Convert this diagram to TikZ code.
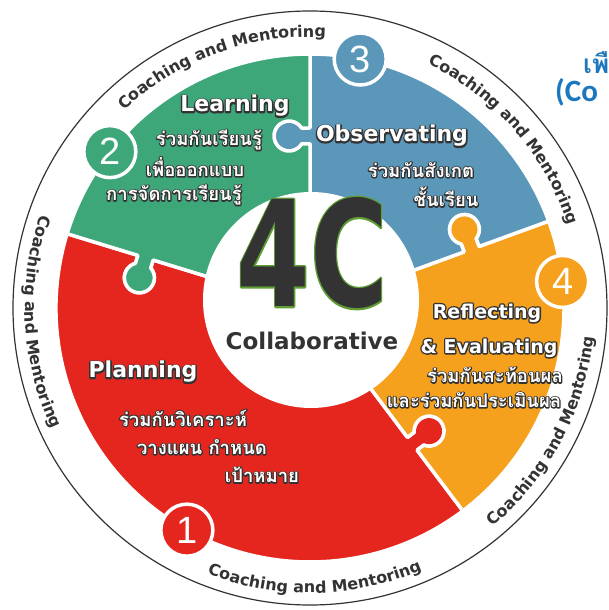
\documentclass[tikz,border=0pt]{standalone}
\usepackage{fontspec}
\usepackage{graphicx}
\usetikzlibrary{calc,decorations.text}
\newfontfamily\thaifont[Script=Thai]{Loma}
\newfontfamily\headfont{DejaVu Sans}
\newfontfamily\numfont{Liberation Sans}
\newfontfamily\calfont{Carlito}
\definecolor{redc}{HTML}{E5261F}
\definecolor{greenc}{HTML}{3DA77A}
\definecolor{bluec}{HTML}{5A97B9}
\definecolor{orangec}{HTML}{F5A11E}
\definecolor{darkc}{HTML}{333333}
\definecolor{titleblue}{HTML}{1C77BD}
% outline: a stroked-only copy underneath, then the filled text on top
\newcommand\outl[3]{\rlap{\special{pdf:literal direct 1 Tr #1 w 1 j #2 RG}#3\special{pdf:literal direct 0 Tr}}#3}
\newcommand\dk[1]{\outl{2.8}{0.2 0.2 0.2}{#1}}
\newcommand\dkt[1]{\outl{2.4}{0.2 0.2 0.2}{#1}}
\newcommand\coachstyle{\headfont\bfseries\fontsize{16}{18}\selectfont\color{darkc}}
\def\RR{254}
\def\nw{8}
\def\yz{8.31}
\def\hh{15}
% edge from centre outward along angle #1, knob at radius #2 bulging to larger angles
\newcommand\edgeout[2]{-- (#1:{#2-\nw}) -- ($(#1:{#2-\nw})+({#1+90}:\yz)$) arc[start angle={#1+237.8}, end angle={#1-57.8}, radius=\hh] -- (#1:{#2+\nw}) -- (#1:\RR)}
% edge from outer radius inward along angle #1
\newcommand\edgein[2]{-- (#1:{#2+\nw}) -- ($(#1:{#2+\nw})+({#1+90}:\yz)$) arc[start angle={#1-57.8}, end angle={#1+237.8}, radius=\hh] -- (#1:{#2-\nw}) -- (0,0)}
\tikzset{
  piece/.style={draw=white, line width=3.5pt, line join=round},
  numc/.style={circle, minimum size=52pt, inner sep=0pt, draw=white, line width=3.5pt, text=white, font=\numfont\fontsize{38}{38}\selectfont},
  heading/.style={inner sep=0pt, text=white, font=\headfont\bfseries\fontsize{22}{24}\selectfont},
  headsmall/.style={inner sep=0pt, text=white, font=\headfont\bfseries\fontsize{19}{21}\selectfont},
  thai/.style={inner sep=0pt, text=white, font=\thaifont\bfseries\fontsize{18.5}{20}\selectfont},
  coach/.style={decorate, decoration={text along path, text align=center, text={|\coachstyle|Coaching and Mentoring}}}
}
\begin{document}
\begin{tikzpicture}[x=1pt,y=1pt]
\useasboundingbox (-310,-302) rectangle (299,308);
\fill[white] (-310,-302) rectangle (299,308);
\draw[darkc, line width=1.2pt] (0,0) circle[radius=297];
% puzzle pieces
\filldraw[piece, fill=redc] (0,0) \edgeout{163}{172} arc[start angle=163, end angle=307, radius=\RR] \edgein{307}{170} -- cycle;
\filldraw[piece, fill=orangec] (0,0) \edgeout{-53}{170} arc[start angle=-53, end angle=20, radius=\RR] \edgein{20}{172} -- cycle;
\filldraw[piece, fill=bluec] (0,0) \edgeout{20}{172} arc[start angle=20, end angle=90, radius=\RR] \edgein{90}{172} -- cycle;
\filldraw[piece, fill=greenc] (0,0) \edgeout{90}{172} arc[start angle=90, end angle=163, radius=\RR] \edgein{163}{172} -- cycle;
\fill[white] (1,8) circle[radius=108];
% ring texts
\path[coach] (145:271) arc[start angle=145, end angle=75, radius=271];
\path[coach] (76:271) arc[start angle=76, end angle=6, radius=271];
\path[coach] (-63:285) arc[start angle=-63, end angle=7, radius=285];
\path[coach] (-124:285) arc[start angle=-124, end angle=-54, radius=285];
\path[coach] (148:285) arc[start angle=148, end angle=218, radius=285];
% number badges
\node[numc, fill=redc] (n1) at (241:254) {1};
\node[numc, fill=greenc] (n2) at (142:254) {2};
\node[numc, fill=bluec] (n3) at (78.6:254) {3};
\node[numc, fill=orangec] (n4) at (6:254) {4};
% centre
\node[inner sep=0pt, text=darkc, font=\headfont\bfseries\fontsize{147}{147}\selectfont] (fourc) at (2,55) {\scalebox{0.72}[1]{\outl{3.5}{0.37 0.62 0.2}{4C}}};
\node[inner sep=0pt, text=darkc, font=\headfont\bfseries\fontsize{23}{25}\selectfont] (collab) at (2,-33) {Collaborative};
% Learning
\node[heading] (learn) at (-75,202) {\dk{Learning}};
\node[thai] (l1) at (-101,168) {\dkt{ร่วมกันเรียนรู้}};
\node[thai] (l2) at (-115,141) {\dkt{เพื่อออกแบบ}};
\node[thai] (l3) at (-136,113) {\dkt{การจัดการเรียนรู้}};
% Observating
\node[heading] (obs) at (82,172) {\dk{Observating}};
\node[thai] (o1) at (111,138) {\dkt{ร่วมกันสังเกต}};
\node[thai] (o2) at (136,111) {\dkt{ชั้นเรียน}};
% Planning
\node[heading] (plan) at (-167,-64) {\dk{Planning}};
\node[thai] (p1) at (-127,-110) {\dkt{ร่วมกันวิเคราะห์}};
\node[thai] (p2) at (-108,-139) {\dkt{วางแผน กำหนด}};
\node[thai] (p3) at (-48,-167) {\dkt{เป้าหมาย}};
% Reflecting
\node[headsmall] (refl) at (177,-5) {\dk{Reflecting}};
\node[headsmall] (eval) at (179,-40) {\dk{\& Evaluating}};
\node[thai] (r1) at (185,-67) {\dkt{ร่วมกันสะท้อนผล}};
\node[thai] (r2) at (164,-92) {\dkt{และร่วมกันประเมินผล}};
% cut-off title at right
\node[anchor=west, inner sep=0pt, text=titleblue, font=\thaifont\bfseries\fontsize{26}{28}\selectfont] (t1) at (273,245) {เพื};
\node[anchor=west, inner sep=0pt, text=titleblue, font=\calfont\bfseries\fontsize{31}{33}\selectfont] (t2) at (245,216) {(Co};
\end{tikzpicture}
\end{document}
